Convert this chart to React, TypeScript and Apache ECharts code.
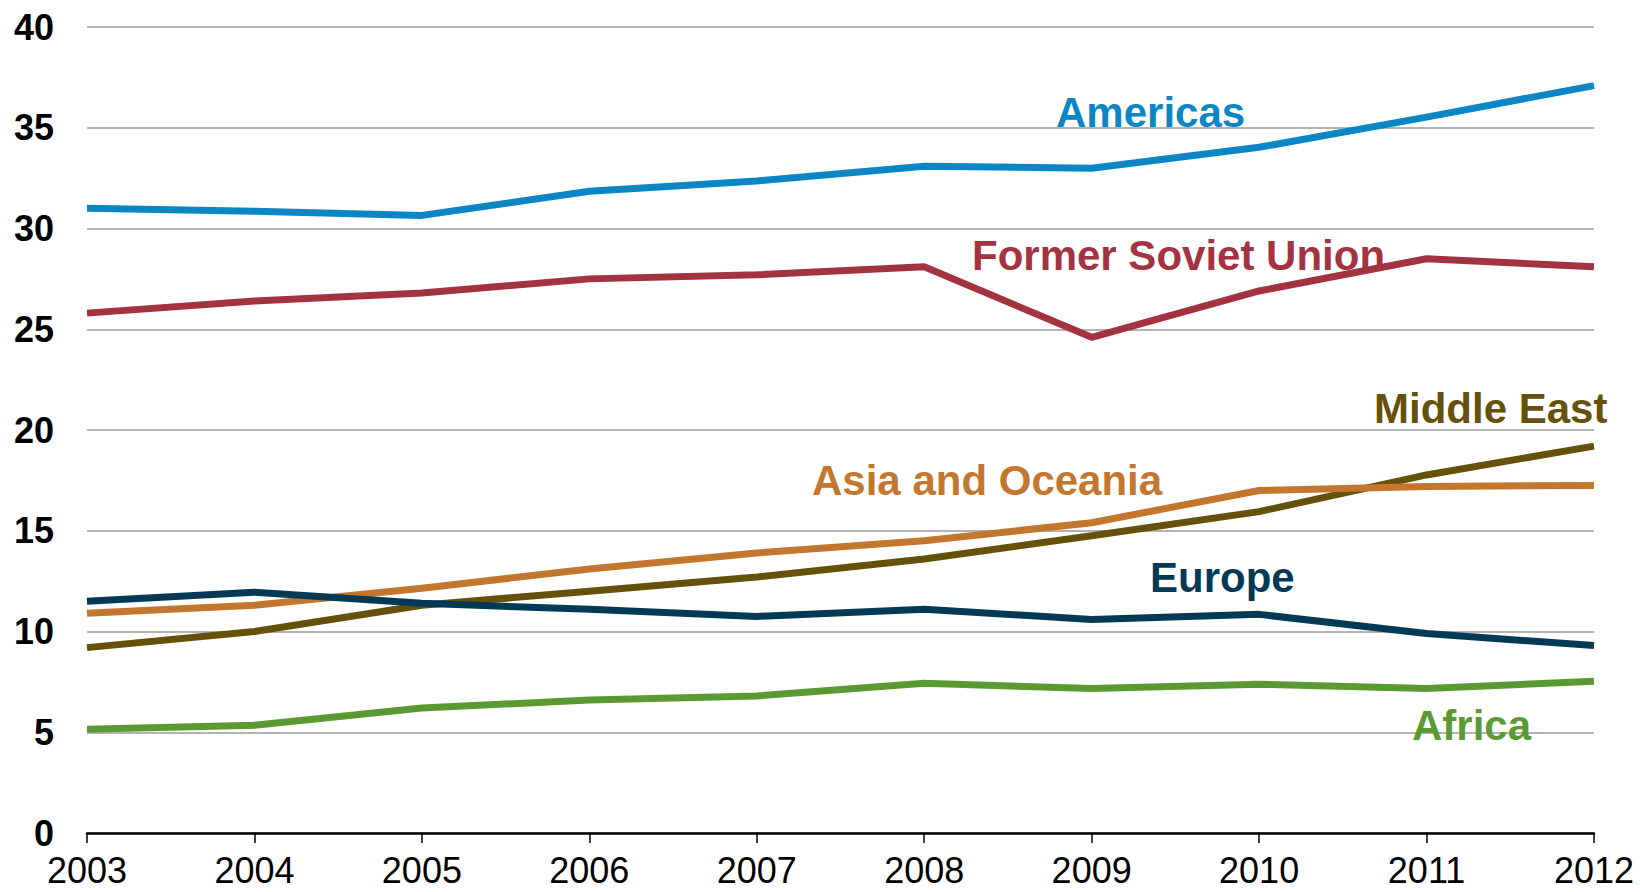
import React, { useEffect, useRef } from "react";
import * as echarts from "echarts";

const years = ["2003", "2004", "2005", "2006", "2007", "2008", "2009", "2010", "2011", "2012"];
const americas = [31.0, 30.86, 30.65, 31.85, 32.36, 33.09, 32.99, 34.03, 35.53, 37.09];
const formerSovietUnion = [25.8, 26.4, 26.8, 27.5, 27.7, 28.1, 24.6, 26.9, 28.5, 28.1];
const middleEast = [9.2, 10.0, 11.3, 12.0, 12.7, 13.6, 14.75, 15.95, 17.77, 19.2];
const asiaOceania = [10.9, 11.3, 12.15, 13.1, 13.9, 14.5, 15.4, 17.0, 17.2, 17.25];
const europe = [11.5, 11.95, 11.4, 11.1, 10.75, 11.1, 10.6, 10.85, 9.9, 9.3];
const africa = [5.15, 5.35, 6.2, 6.6, 6.8, 7.43, 7.17, 7.38, 7.17, 7.53];

const seriesDefs = [
  { name: "Americas", data: americas, color: "#0a86c4", lx: 1056, ly: 112 },
  { name: "Former Soviet Union", data: formerSovietUnion, color: "#a33341", lx: 972, ly: 255 },
  { name: "Middle East", data: middleEast, color: "#66510b", lx: 1374, ly: 408 },
  { name: "Asia and Oceania", data: asiaOceania, color: "#c2762e", lx: 812, ly: 480 },
  { name: "Europe", data: europe, color: "#023a55", lx: 1150, ly: 577 },
  { name: "Africa", data: africa, color: "#5b9a32", lx: 1412, ly: 725 },
];

export default function App() {
  const ref = useRef<HTMLDivElement>(null);
  useEffect(() => {
    document.body.style.margin = "0";
    const chart = echarts.init(ref.current!, null, { renderer: "svg" });
    chart.setOption({
      animation: false,
      backgroundColor: "#ffffff",
      grid: { left: 87, right: 46, top: 27, bottom: 59, containLabel: false },
      xAxis: {
        type: "category",
        data: years,
        boundaryGap: false,
        axisLine: { show: true, lineStyle: { color: "#000", width: 2.5 } },
        axisTick: { show: true, length: 10, lineStyle: { color: "#000", width: 1.5 } },
        axisLabel: {
          color: "#000",
          fontFamily: "Liberation Sans, Arial, sans-serif",
          fontSize: 36,
          lineHeight: 32,
          margin: 21,
        },
        splitLine: { show: false },
      },
      yAxis: {
        type: "value",
        min: 0,
        max: 40,
        interval: 5,
        axisLine: { show: false },
        axisTick: { show: false },
        axisLabel: {
          color: "#000",
          fontFamily: "Liberation Sans, Arial, sans-serif",
          fontWeight: "bold",
          fontSize: 36,
          margin: 33,
        },
        splitLine: { show: true, lineStyle: { color: "#b3b3b3", width: 2 } },
      },
      series: seriesDefs.map((s) => ({
        name: s.name,
        type: "line",
        data: s.data,
        symbol: "none",
        lineStyle: { color: s.color, width: 7 },
        itemStyle: { color: s.color },
      })),
      graphic: seriesDefs.map((s) => ({
        type: "text",
        x: s.lx,
        y: s.ly,
        z: 100,
        style: {
          text: s.name,
          fill: s.color,
          font: "bold 42px 'Liberation Sans', Arial, sans-serif",
          align: "left",
          verticalAlign: "middle",
        },
      })),
    });
    return () => chart.dispose();
  }, []);
  return <div ref={ref} style={{ width: 1640, height: 892 }} />;
}
